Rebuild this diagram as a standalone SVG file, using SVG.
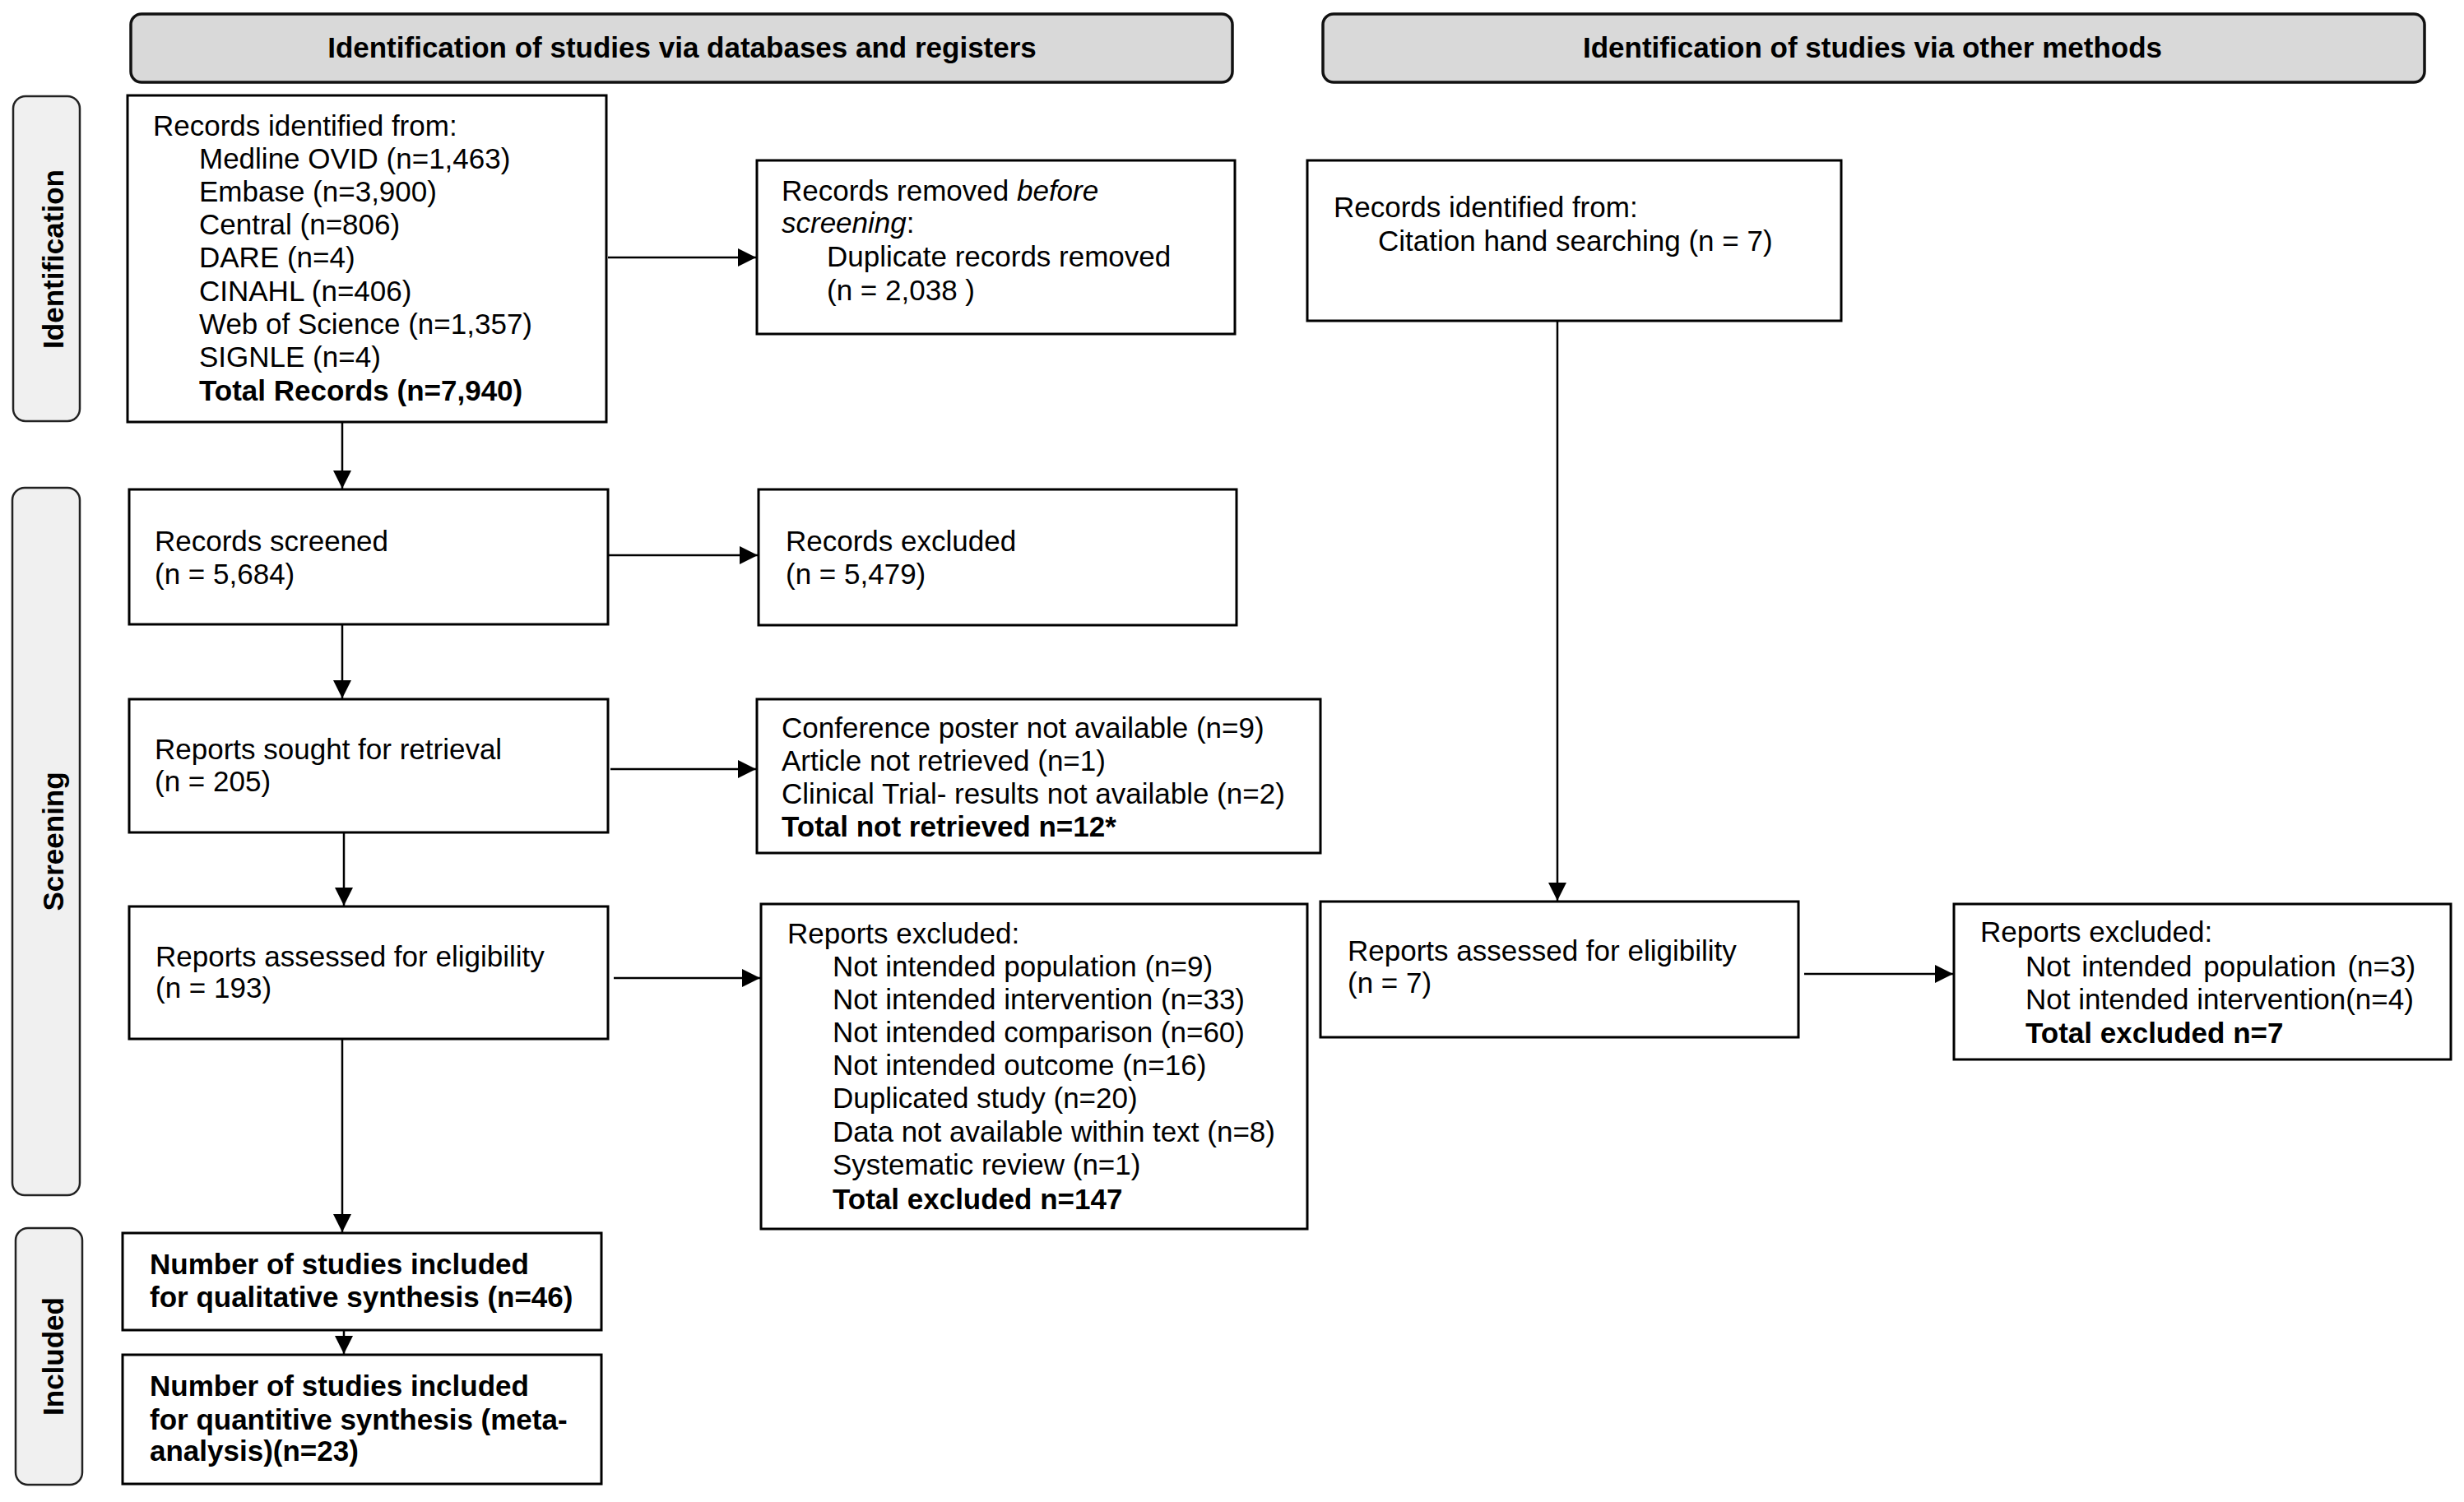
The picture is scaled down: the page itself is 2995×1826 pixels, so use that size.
<svg xmlns="http://www.w3.org/2000/svg" width="2995" height="1826" viewBox="0 0 2995 1826">
<defs>
<marker id="arr" markerUnits="userSpaceOnUse" markerWidth="24" markerHeight="24" refX="22" refY="11" orient="auto">
<path d="M0,0 L22,11 L0,22 z" fill="#000"/>
</marker>
<style>
.hdr{fill:#d9d9d9;stroke:#111;stroke-width:3.5}
.side{fill:#f0f0f0;stroke:#222;stroke-width:2.5}
.box{fill:#fff;stroke:#000;stroke-width:3}
text{font-family:"Liberation Sans",Arial,sans-serif;font-size:35px;fill:#000}
.b{font-weight:bold}
.ht{font-weight:bold;text-anchor:middle}
.st{font-weight:bold;text-anchor:middle}
.conn line{stroke:#000;stroke-width:2.5;marker-end:url(#arr)}
</style>
</defs>
<rect width="2995" height="1826" fill="#fff"/>

<g id="header-databases">
<rect class="hdr" x="159" y="17" width="1339" height="83" rx="13"/>
<text class="ht" x="829" y="70">Identification of studies via databases and registers</text>
</g>
<g id="header-other">
<rect class="hdr" x="1608" y="17" width="1339" height="83" rx="13"/>
<text class="ht" x="2276" y="70">Identification of studies via other methods</text>
</g>

<g id="label-identification">
<rect class="side" x="16" y="117" width="81" height="395" rx="15"/>
<text class="st" transform="translate(77,315) rotate(-90)">Identification</text>
</g>
<g id="label-screening">
<rect class="side" x="15" y="593" width="82" height="860" rx="15"/>
<text class="st" transform="translate(77,1023) rotate(-90)">Screening</text>
</g>
<g id="label-included">
<rect class="side" x="19" y="1493" width="81" height="312" rx="15"/>
<text class="st" transform="translate(77,1649) rotate(-90)">Included</text>
</g>

<g id="records-identified">
<rect class="box" x="155" y="116" width="582" height="397"/>
<text x="186" y="165">Records identified from:</text>
<text x="242" y="205">Medline OVID (n=1,463)</text>
<text x="242" y="245">Embase (n=3,900)</text>
<text x="242" y="285">Central (n=806)</text>
<text x="242" y="325">DARE (n=4)</text>
<text x="242" y="366">CINAHL (n=406)</text>
<text x="242" y="406">Web of Science (n=1,357)</text>
<text x="242" y="446">SIGNLE (n=4)</text>
<text class="b" x="242" y="487">Total Records (n=7,940)</text>
</g>

<g id="records-removed">
<rect class="box" x="920" y="195" width="581" height="211"/>
<text x="950" y="244">Records removed <tspan font-style="italic">before</tspan></text>
<text x="950" y="283"><tspan font-style="italic">screening</tspan>:</text>
<text x="1005" y="324">Duplicate records removed</text>
<text x="1005" y="365">(n = 2,038 )</text>
</g>

<g id="records-other">
<rect class="box" x="1589" y="195" width="649" height="195"/>
<text x="1621" y="264">Records identified from:</text>
<text x="1675" y="305">Citation hand searching (n = 7)</text>
</g>

<g id="records-screened">
<rect class="box" x="157" y="595" width="582" height="164"/>
<text x="188" y="670">Records screened</text>
<text x="188" y="710">(n = 5,684)</text>
</g>

<g id="records-excluded">
<rect class="box" x="922" y="595" width="581" height="165"/>
<text x="955" y="670">Records excluded</text>
<text x="955" y="710">(n = 5,479)</text>
</g>

<g id="reports-sought">
<rect class="box" x="157" y="850" width="582" height="162"/>
<text x="188" y="923">Reports sought for retrieval</text>
<text x="188" y="962">(n = 205)</text>
</g>

<g id="reports-not-retrieved">
<rect class="box" x="920" y="850" width="685" height="187"/>
<text x="950" y="897">Conference poster not available (n=9)</text>
<text x="950" y="937">Article not retrieved (n=1)</text>
<text x="950" y="977">Clinical Trial- results not available (n=2)</text>
<text class="b" x="950" y="1017">Total not retrieved n=12*</text>
</g>

<g id="reports-assessed">
<rect class="box" x="157" y="1102" width="582" height="161"/>
<text x="189" y="1175">Reports assessed for eligibility</text>
<text x="189" y="1213">(n = 193)</text>
</g>

<g id="reports-excluded">
<rect class="box" x="925" y="1099" width="664" height="395"/>
<text x="957" y="1147">Reports excluded:</text>
<text x="1012" y="1187">Not intended population (n=9)</text>
<text x="1012" y="1227">Not intended intervention (n=33)</text>
<text x="1012" y="1267">Not intended comparison (n=60)</text>
<text x="1012" y="1307">Not intended outcome (n=16)</text>
<text x="1012" y="1347">Duplicated study (n=20)</text>
<text x="1012" y="1388">Data not available within text (n=8)</text>
<text x="1012" y="1428">Systematic review (n=1)</text>
<text class="b" x="1012" y="1470">Total excluded n=147</text>
</g>

<g id="reports-assessed-other">
<rect class="box" x="1605" y="1096" width="581" height="165"/>
<text x="1638" y="1168">Reports assessed for eligibility</text>
<text x="1638" y="1207">(n = 7)</text>
</g>

<g id="reports-excluded-other">
<rect class="box" x="2375" y="1099" width="604" height="189"/>
<text x="2407" y="1145">Reports excluded:</text>
<text x="2462" y="1187" word-spacing="4">Not intended population (n=3)</text>
<text x="2462" y="1227">Not intended intervention(n=4)</text>
<text class="b" x="2462" y="1268">Total excluded n=7</text>
</g>

<g id="included-qualitative">
<rect class="box" x="149" y="1499" width="582" height="118"/>
<text class="b" x="182" y="1549">Number of studies included</text>
<text class="b" x="182" y="1589">for qualitative synthesis (n=46)</text>
</g>

<g id="included-quantitative">
<rect class="box" x="149" y="1647" width="582" height="157"/>
<text class="b" x="182" y="1697">Number of studies included</text>
<text class="b" x="182" y="1738">for quantitive synthesis (meta-</text>
<text class="b" x="182" y="1776">analysis)(n=23)</text>
</g>

<g id="connectors" class="conn">
<line x1="416" y1="514" x2="416" y2="594"/>
<line x1="739" y1="313" x2="919" y2="313"/>
<line x1="740" y1="675" x2="921" y2="675"/>
<line x1="416" y1="760" x2="416" y2="849"/>
<line x1="742" y1="935" x2="919" y2="935"/>
<line x1="418" y1="1013" x2="418" y2="1101"/>
<line x1="746" y1="1189" x2="924" y2="1189"/>
<line x1="416" y1="1264" x2="416" y2="1498"/>
<line x1="418" y1="1618" x2="418" y2="1646"/>
<line x1="1893" y1="391" x2="1893" y2="1095"/>
<line x1="2193" y1="1184" x2="2374" y2="1184"/>
</g>
</svg>
